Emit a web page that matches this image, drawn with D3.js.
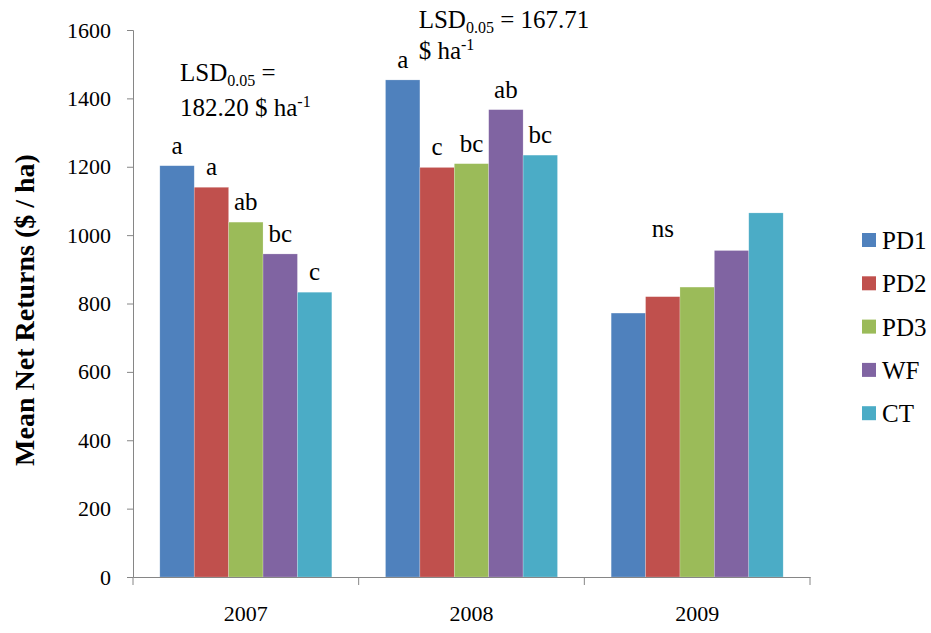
<!DOCTYPE html>
<html>
<head>
<meta charset="utf-8">
<script src="https://cdn.jsdelivr.net/npm/d3@7"></script>
<style>
  body { margin: 0; background: #fff; }
</style>
</head>
<body>
<svg id="chart"></svg>
<script>
// data
var years = ["2007", "2008", "2009"];
var treatments = ["PD1", "PD2", "PD3", "WF", "CT"];
var colors = ["#4F81BD", "#C0504D", "#9BBB59", "#8064A2", "#4BACC6"];
var returns2007 = [1203, 1140, 1038, 945, 833];
var returns2008 = [1454, 1198, 1209, 1367, 1234];
var returns2009 = [772, 820, 848, 955, 1065];
var letters2007 = ["a", "a", "ab", "bc", "c"];
var letters2008 = ["a", "c", "bc", "ab", "bc"];
var yTicks = [0, 200, 400, 600, 800, 1000, 1200, 1400, 1600];

var svgWidth = 931, svgHeight = 633;
var margin = {top: 30, right: 121, bottom: 56, left: 133};
var plotWidth = svgWidth - margin.left - margin.right;
var plotHeight = svgHeight - margin.top - margin.bottom;

var svg = d3.select("#chart")
  .attr("width", svgWidth)
  .attr("height", svgHeight)
  .attr("font-family", "Liberation Serif");

var plot = svg.append("g")
  .attr("transform", "translate(" + margin.left + "," + margin.top + ")");

var x0 = d3.scaleBand().domain(years).range([0, plotWidth]).padding(0);
var x1 = d3.scaleBand().domain(treatments).range([0, x0.bandwidth()])
  .paddingInner(0).paddingOuter(0.78);
var y = d3.scaleLinear().domain([0, 1600]).range([plotHeight, 0]);
var z = d3.scaleOrdinal().domain(treatments).range(colors);

var rows = [returns2007, returns2008, returns2009];
var lettersByYear = [letters2007, letters2008, null];

var groups = plot.selectAll("g.year")
  .data(years)
  .enter().append("g")
  .attr("class", "year")
  .attr("transform", d => "translate(" + x0(d) + ",0)");

groups.selectAll("rect")
  .data((d, i) => treatments.map((t, j) => ({t: t, v: rows[i][j]})))
  .enter().append("rect")
  .attr("x", d => x1(d.t))
  .attr("y", d => y(d.v))
  .attr("width", x1.bandwidth())
  .attr("height", d => y(0) - y(d.v))
  .attr("fill", d => z(d.t))
  .attr("stroke", "#ffffff")
  .attr("stroke-opacity", 0.35)
  .attr("stroke-width", 0.6);

// significance letters
groups.selectAll("text.letter")
  .data((d, i) => lettersByYear[i] ? treatments.map((t, j) => ({t: t, v: rows[i][j], l: lettersByYear[i][j]})) : [])
  .enter().append("text")
  .attr("class", "letter")
  .attr("x", d => x1(d.t) + x1.bandwidth() / 2)
  .attr("y", d => y(d.v) - 12)
  .attr("text-anchor", "middle")
  .attr("font-size", 25)
  .text(d => d.l);

// ns for 2009
plot.append("text")
  .attr("x", x0("2009") + x1("PD2") + x1.bandwidth() / 2)
  .attr("y", y(995))
  .attr("text-anchor", "middle")
  .attr("font-size", 25)
  .text("ns");

// y axis
var yAxis = plot.append("g")
  .call(d3.axisLeft(y).tickValues(yTicks).tickFormat(d3.format("d"))
    .tickSize(6).tickPadding(16).tickSizeOuter(6))
  .attr("font-family", "Liberation Serif")
  .attr("font-size", 22);
yAxis.select(".domain").attr("stroke", "#868686");
yAxis.selectAll(".tick line").attr("stroke", "#868686");
yAxis.selectAll(".tick text").attr("fill", "#000");

// x axis
var xAxis = plot.append("g")
  .attr("transform", "translate(0," + plotHeight + ")")
  .call(d3.axisBottom(x0).tickSize(0).tickPadding(28))
  .attr("font-family", "Liberation Serif")
  .attr("font-size", 22);
xAxis.select(".domain").attr("stroke", "#868686");
xAxis.selectAll(".tick text").attr("fill", "#000");
// category separators
xAxis.selectAll("line.sep")
  .data(years.concat(["end"]))
  .enter().append("line")
  .attr("class", "sep")
  .attr("x1", (d, i) => i * x0.step())
  .attr("x2", (d, i) => i * x0.step())
  .attr("y1", 0).attr("y2", 8)
  .attr("stroke", "#868686");

// axis title
svg.append("text")
  .attr("transform", "translate(34,310) rotate(-90)")
  .attr("text-anchor", "middle")
  .attr("font-size", 28)
  .attr("font-weight", "bold")
  .text("Mean Net Returns ($ / ha)");

// LSD annotations
function lsd(xp, yp, line1rest, line2, lh) {
  var t = plot.append("text").attr("x", xp).attr("y", yp).attr("font-size", 25);
  t.append("tspan").text("LSD");
  t.append("tspan").attr("dy", 5).attr("font-size", 16).text("0.05");
  t.append("tspan").attr("dy", -5).text(" = " + line1rest);
  var t2 = plot.append("text").attr("x", xp).attr("y", yp + lh).attr("font-size", 25);
  t2.append("tspan").text(line2);
  t2.append("tspan").attr("dy", -9).attr("font-size", 16).text("-1");
}
lsd(x0("2007") + 47, y(1450), "", "182.20 $ ha", 35);
lsd(x0("2008") + 60, y(1605), "167.71", "$ ha", 31);

// legend
var legend = svg.append("g").attr("transform", "translate(862,240)");
var item = legend.selectAll("g")
  .data(treatments)
  .enter().append("g")
  .attr("transform", (d, i) => "translate(0," + i * 43.3 + ")");
item.append("rect")
  .attr("x", 0).attr("y", -7)
  .attr("width", 14).attr("height", 14)
  .attr("fill", d => z(d));
item.append("text")
  .attr("x", 20).attr("y", 9)
  .attr("font-size", 25)
  .text(d => d);
</script>
</body>
</html>
